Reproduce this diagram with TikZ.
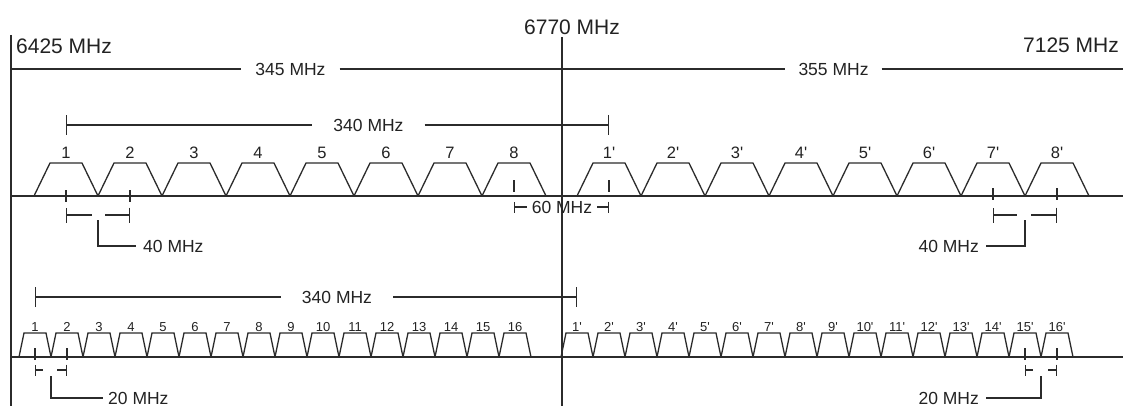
\documentclass[tikz,border=0pt]{standalone}
\usepackage{fontspec}
\setmainfont{Liberation Sans}
\usetikzlibrary{arrows.meta,positioning,calc}
\definecolor{SpecInk}{HTML}{2B2B2B}
\definecolor{SpecText}{HTML}{222222}
\tikzset{
  axis/.style={line width=1.3pt, draw=SpecInk},
  chan/.style={line width=1.3pt, draw=SpecInk},
  tick/.style={line width=1.2pt, draw=SpecInk},
  dimline/.style={line width=1.2pt, draw=SpecInk},
  spanl/.style={dimline, {Bar[width=20pt]}-},
  spanr/.style={dimline, -{Bar[width=20pt]}},
  spacing/.style={dimline, {Bar[width=15pt]}-},
  spacingsm/.style={dimline, {Bar[width=11pt]}-},
  freq/.style={font=\fontsize{21}{24}\selectfont, text=SpecText, inner sep=0pt},
  dim/.style={font=\fontsize{17.5}{20}\selectfont, text=SpecText, inner xsep=6pt, inner ysep=0pt},
  gap/.style={inner xsep=#1},
  widech/.style={font=\fontsize{16.5}{18}\selectfont, text=SpecText, inner sep=0pt},
  narrowch/.style={font=\fontsize{13}{15}\selectfont, text=SpecText, inner sep=0pt},
}

\begin{document}
\begin{tikzpicture}[x=1pt,y=-1pt]
  \useasboundingbox (0,0) rectangle (1123,406);
  % band edges and centre
  \node[freq,anchor=west] (f6425) at (16,46) {6425 MHz};
  \node[freq] (f6770) at (572,27) {6770 MHz};
  \node[freq] (f7125) at (1071,45) {7125 MHz};
  \draw[axis] (11,35) -- (11,406);
  \draw[axis] (562,37) -- (562,406);
  \node[dim,gap=14pt] (t345) at (290.5,69) {345 MHz};
  \node[dim,gap=13pt] (t355) at (833.5,69) {355 MHz};
  \draw[axis] (11,69) -- (t345.west);
  \draw[axis] (t345.east) -- (t355.west);
  \draw[axis] (t355.east) -- (1123,69);

  % 40 MHz channels
  \draw[axis] (11,196) -- (1123,196);
  \foreach \k in {1,...,8}{
    \coordinate (c\k) at ({66+64*(\k-1)},196);
    \coordinate (d\k) at ({609+64*(\k-1)},196);
    \draw[chan] ($(c\k)+(-32,0)$) -- ++(16,-33) -- ++(32,0) -- ++(16,33);
    \draw[chan] ($(d\k)+(-32,0)$) -- ++(16,-33) -- ++(32,0) -- ++(16,33);
    \node[widech] (lc\k) at ($(c\k)+(0,-43.5)$) {\k};
    \node[widech] (ld\k) at ($(d\k)+(0,-43.5)$) {\k\textquotesingle};
  }
  \node[dim,gap=21pt] (t340a) at (368.5,125) {340 MHz};
  \draw[spanl] ($(c1)+(0,-71)$) -- (t340a.west);
  \draw[spanr] (t340a.east) -- ($(d1)+(0,-71)$);
  \draw[tick] ($(c8)+(0,-16)$) -- ($(c8)+(0,-4)$);
  \draw[tick] ($(d1)+(0,-16)$) -- ($(d1)+(0,-4)$);
  \node[dim,gap=5pt] (t60) at (562,207) {60 MHz};
  \draw[spacingsm] ($(c8)+(0,11)$) -- (t60.west);
  \draw[spacingsm] ($(d1)+(0,11)$) -- (t60.east);
  \draw[tick] ($(c1)+(0,-6)$) -- ($(c1)+(0,6)$);
  \draw[tick] ($(c2)+(0,-6)$) -- ($(c2)+(0,6)$);
  \draw[spacing] ($(c1)+(0,19)$) -- ++(26,0);
  \draw[spacing] ($(c2)+(0,19)$) -- ++(-25,0);
  \coordinate (k40a) at ($(c1)!0.5!(c2)+(0,24)$);
  \node[dim,anchor=west,gap=7pt] (t40a) at ($(k40a)+(38,26)$) {40 MHz};
  \draw[dimline] (k40a) |- (t40a.west);
  \draw[tick] ($(d7)+(0,-8)$) -- ($(d7)+(0,4)$);
  \draw[tick] ($(d8)+(0,-8)$) -- ($(d8)+(0,4)$);
  \draw[spacing] ($(d7)+(0,19)$) -- ++(24,0);
  \draw[spacing] ($(d8)+(0,19)$) -- ++(-26,0);
  \coordinate (k40b) at ($(d7)!0.5!(d8)+(0,24)$);
  \node[dim,anchor=east,gap=7pt] (t40b) at ($(k40b)+(-39,26)$) {40 MHz};
  \draw[dimline] (k40b) |- (t40b.east);

  % 20 MHz channels
  \draw[axis] (11,357) -- (1123,357);
  \foreach \k in {1,...,16}{
    \coordinate (e\k) at ({35+32*(\k-1)},357);
    \coordinate (g\k) at ({577+32*(\k-1)},357);
    \draw[chan] ($(e\k)+(-16,0)$) -- ++(5,-24) -- ++(22,0) -- ++(5,24);
    \draw[chan] ($(g\k)+(-16,0)$) -- ++(5,-24) -- ++(22,0) -- ++(5,24);
    \node[narrowch] (le\k) at ($(e\k)+(0,-30)$) {\k};
    \node[narrowch] (lg\k) at ($(g\k)+(0,-30)$) {\k\textquotesingle};
  }
  \node[dim,gap=21pt] (t340b) at (337,297) {340 MHz};
  \draw[spanl] ($(e1)+(0,-60)$) -- (t340b.west);
  \draw[spanr] (t340b.east) -- ($(g1)+(0,-60)$);
  \draw[tick] ($(e1)+(0,-9)$) -- ($(e1)+(0,3)$);
  \draw[tick] ($(e2)+(0,-9)$) -- ($(e2)+(0,3)$);
  \draw[spacingsm] ($(e1)+(0,13)$) -- ++(8,0);
  \draw[spacingsm] ($(e2)+(0,13)$) -- ++(-10,0);
  \coordinate (k20a) at ($(e1)!0.5!(e2)+(0,19)$);
  \node[dim,anchor=west,gap=5pt] (t20a) at ($(k20a)+(52,22)$) {20 MHz};
  \draw[dimline] (k20a) |- (t20a.west);
  \draw[tick] ($(g15)+(0,-9)$) -- ($(g15)+(0,3)$);
  \draw[tick] ($(g16)+(0,-9)$) -- ($(g16)+(0,3)$);
  \draw[spacingsm] ($(g15)+(0,13)$) -- ++(8,0);
  \draw[spacingsm] ($(g16)+(0,13)$) -- ++(-9,0);
  \coordinate (k20b) at ($(g15)!0.5!(g16)+(0,19)$);
  \node[dim,anchor=east,gap=7pt] (t20b) at ($(k20b)+(-55,22)$) {20 MHz};
  \draw[dimline] (k20b) |- (t20b.east);
\end{tikzpicture}
\end{document}
